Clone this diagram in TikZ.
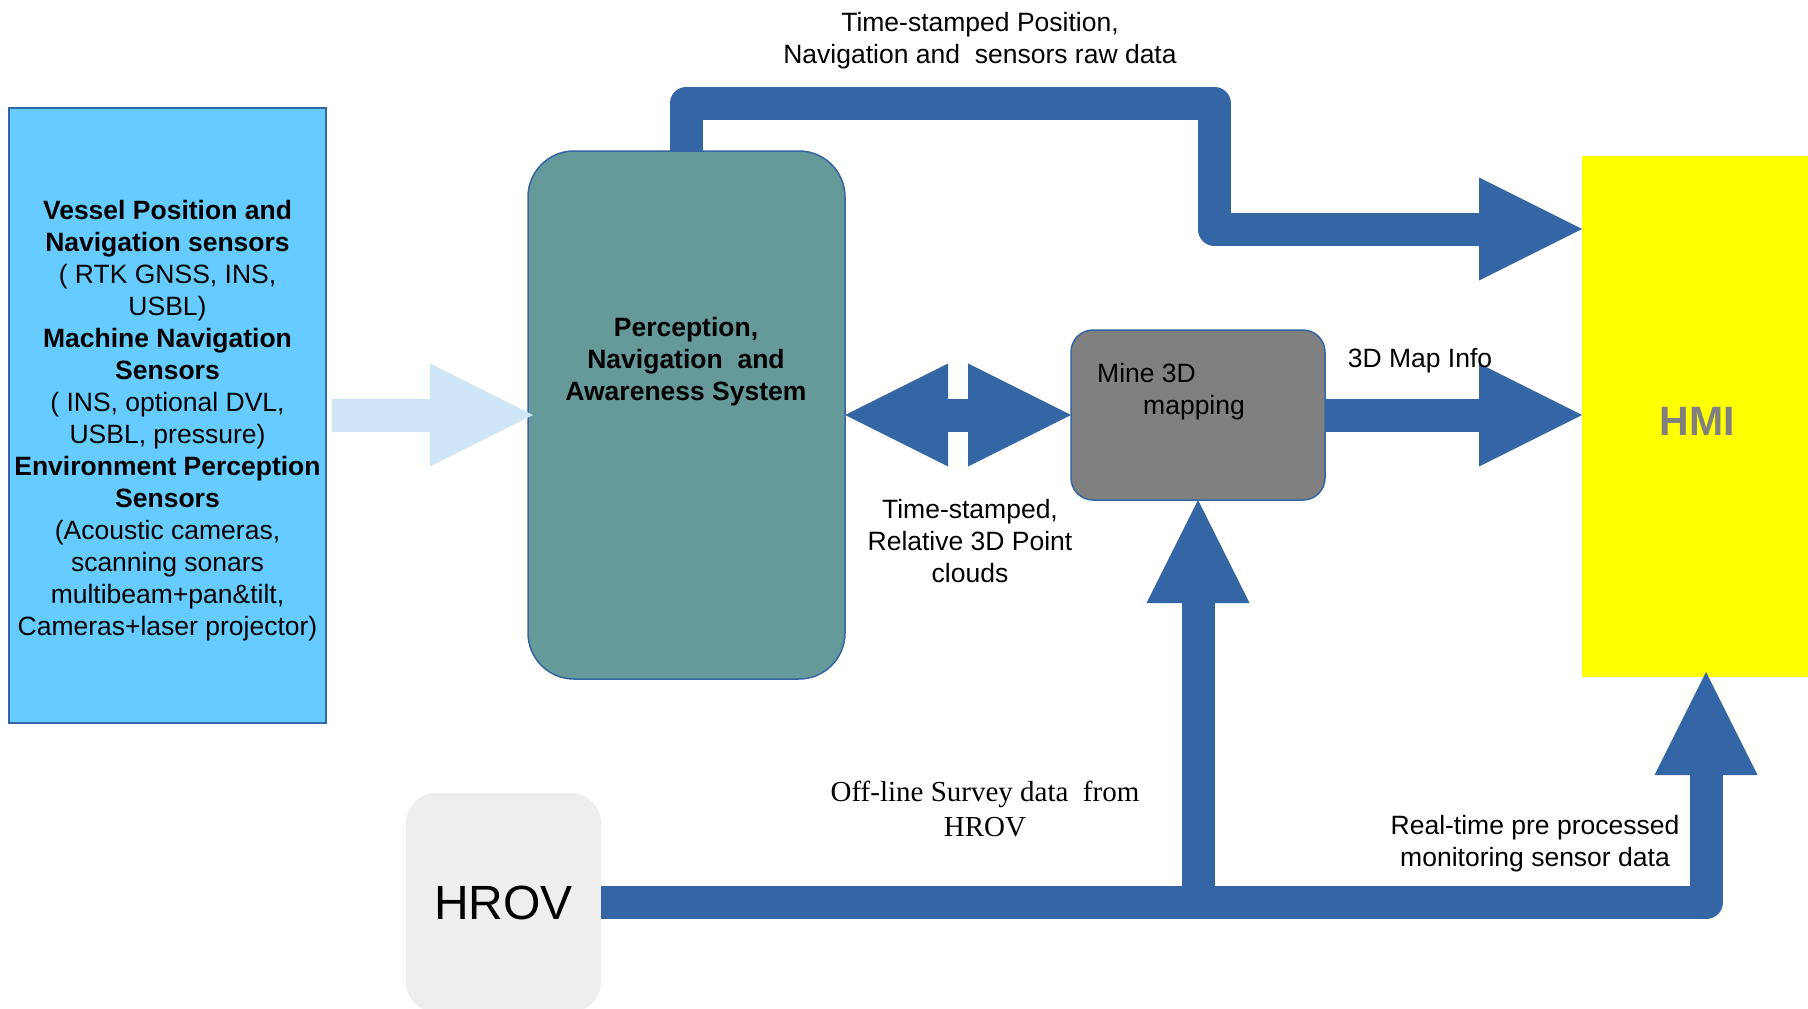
\documentclass[tikz,border=0pt]{standalone}
\usepackage{fontspec}
\setmainfont{Liberation Sans}
\newfontfamily\serifface{Liberation Serif}
\usetikzlibrary{calc,backgrounds}
\definecolor{flowblue}{HTML}{3465A4}
\definecolor{lightflow}{HTML}{CDE5F4}
\definecolor{sensorfill}{HTML}{66CCFF}
\definecolor{tealfill}{HTML}{669999}
\definecolor{hrovfill}{HTML}{EEEEEE}
\definecolor{hmifill}{HTML}{FFFF00}
\definecolor{midgray}{HTML}{808080}
\begin{document}
\begin{tikzpicture}[x=1pt,y=-1pt,
  txt/.style={inner sep=0pt, align=center, font=\fontsize{26.5pt}{32pt}\selectfont},
  shaft/.style={draw=flowblue, line width=33pt, line join=round},
  bighead/.pic={\path[pic actions] (0,0) -- (-103,51.5) -- (-103,-51.5) -- cycle;},
  box/.style={inner sep=0pt, outer sep=0pt}
]
\useasboundingbox (0,0) rectangle (1808,1009);
\clip (0,0) rectangle (1808,1009);

% blocks
\node[box, draw=flowblue, line width=1.5pt, fill=sensorfill,
      minimum width=317pt, minimum height=615pt] (sensors) at (167.5,415.5) {};
\node[box, draw=flowblue, line width=1.5pt, fill=tealfill, rounded corners=46pt,
      minimum width=317pt, minimum height=528pt] (percep) at (686.5,415) {};
\node[box, draw=flowblue, line width=1.5pt, fill=midgray, rounded corners=22pt,
      minimum width=254pt, minimum height=170pt] (mine) at (1198,415) {};
\node[box, fill=hmifill, minimum width=226pt, minimum height=521pt] (hmi) at (1695,416.5) {};
\node[box, fill=hrovfill, rounded corners=30pt, minimum width=195pt, minimum height=219pt,
      font=\fontsize{48pt}{56pt}\selectfont] (hrov) at (503.5,902.5) {HROV};

% raw data path over the top
\coordinate (topbend) at (1214,103);
\coordinate (topbase) at (1479,229);
\begin{pgfonlayer}{background}
\draw[shaft] (percep.north) |- (topbend) |- (topbase);
\end{pgfonlayer}
\pic[fill=flowblue] at (hmi.west |- topbase) {bighead};

% sensors feed
\draw[shaft, draw=lightflow] ($(sensors.east |- percep.west)+(6,0)$) -- ($(percep.west)+(-95,0)$);
\pic[fill=lightflow] at ($(percep.west)+(5,0)$) {bighead};

% point clouds, both directions
\draw[shaft] ($(percep.east)+(100,0)$) -- ($(mine.west)+(-100,0)$);
\pic[fill=flowblue, rotate=180] at (percep.east) {bighead};
\pic[fill=flowblue] at (mine.west) {bighead};

% map info to HMI
\draw[shaft] (mine.east) -- ($(mine.east -| hmi.west)+(-100,0)$);
\pic[fill=flowblue] at (mine.east -| hmi.west) {bighead};

% HROV data
\coordinate (hmitip) at (1706,672);
\coordinate (junc) at (mine.south |- hrov.east);
\draw[shaft] (hrov.east) -| ($(hmitip)+(0,100)$);
\pic[fill=flowblue, rotate=90] at (hmitip) {bighead};
\draw[shaft] (junc) -- ($(mine.south)+(0,100)$);
\pic[fill=flowblue, rotate=90] at (mine.south) {bighead};

% texts
\node[txt, text=midgray, font=\fontsize{41pt}{48pt}\selectfont\bfseries] (hmilbl) at (1697,421.5) {HMI};
\node[txt] (sensortext) at (167.5,421) {%
  \textbf{Vessel Position and}\\
  \textbf{Navigation sensors}\\
  ( RTK GNSS, INS,\\
  USBL)\\
  \textbf{Machine Navigation}\\
  \textbf{Sensors}\\
  ( INS, optional DVL,\\
  USBL, pressure)\\
  \textbf{Environment Perception}\\
  \textbf{Sensors}\\
  (Acoustic cameras,\\
  scanning sonars\\
  multibeam+pan\&tilt,\\
  Cameras+laser projector)};
\node[txt, font=\fontsize{26.5pt}{32pt}\selectfont\bfseries] (perceptext) at (686,362)
  {Perception,\\Navigation\ \ and\\Awareness System};
\node[txt, anchor=base west] (minet1) at (1097,382) {Mine 3D};
\node[txt, anchor=base west] (minet2) at (1143,414) {mapping};
\node[txt] (toplbl) at (980,40.5) {Time-stamped Position,\\Navigation and\ \ sensors raw data};
\node[txt] (cloudlbl) at (970,541) {Time-stamped,\\Relative 3D Point\\clouds};
\node[txt] (maplbl) at (1420,361) {3D Map Info};
\node[txt] (rtlbl) at (1535,843.5) {Real-time pre processed\\monitoring sensor data};
\node[txt, font=\fontsize{29pt}{35pt}\selectfont\serifface] (offlbl) at (985,809)
  {Off-line Survey data\ \ from\\HROV};
\end{tikzpicture}
\end{document}
